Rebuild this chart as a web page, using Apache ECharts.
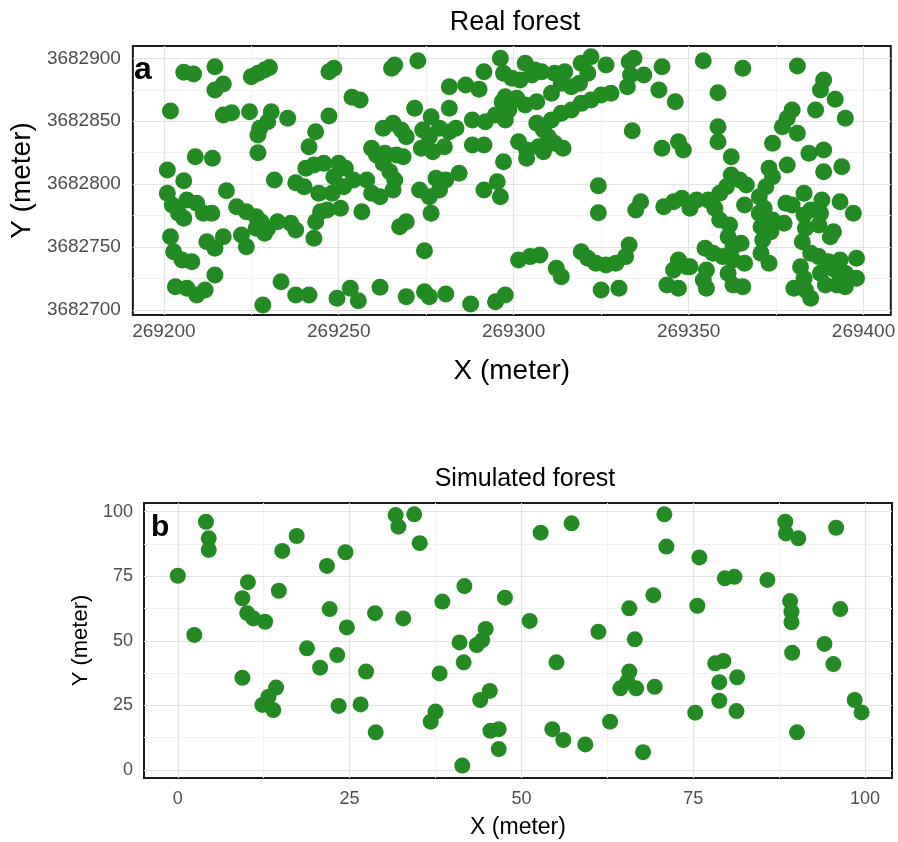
<!DOCTYPE html>
<html><head><meta charset="utf-8">
<script src="https://cdn.jsdelivr.net/npm/echarts@6/dist/echarts.min.js"></script>
<style>html,body{margin:0;padding:0;background:#fff}#c{width:898px;height:842px}</style>
</head><body><div id="c"></div>
<script>
// Real forest tree positions [X, Y] (meter)
const realForest = [
[269205.7,3682888.9],[269208.5,3682887.5],[269214.6,3682893.3],[269217.0,3682879.6],[269214.6,3682874.8],
[269225.0,3682885.4],[269226.9,3682888.1],[269228.8,3682890.7],[269230.2,3682892.8],[269201.9,3682858.1],
[269217.0,3682854.9],[269219.4,3682856.8],[269224.5,3682857.6],[269230.7,3682857.6],[269229.7,3682849.6],
[269235.4,3682852.3],[269227.4,3682844.4],[269226.9,3682839.1],[269243.4,3682841.7],[269241.5,3682829.8],
[269226.9,3682825.0],[269209.0,3682821.8],[269213.9,3682820.5],[269201.0,3682811.2],[269205.7,3682802.7],
[269217.9,3682794.8],[269231.6,3682803.3],[269237.7,3682801.2],[269240.1,3682798.0],[269240.6,3682812.6],
[269242.9,3682815.2],[269201.0,3682792.7],[269202.4,3682783.4],[269204.2,3682776.8],[269205.7,3682772.9],
[269206.6,3682787.4],[269209.4,3682784.8],[269211.3,3682776.8],[269213.7,3682776.8],[269220.8,3682782.1],
[269223.6,3682778.1],[269226.4,3682774.1],[269227.8,3682770.2],[269229.7,3682764.9],[269232.5,3682770.2],
[269236.3,3682768.9],[269237.7,3682763.6],[269244.8,3682778.1],[269243.4,3682770.2],[269242.9,3682757.0],
[269201.9,3682758.2],[269202.8,3682746.3],[269205.2,3682739.7],[269208.0,3682738.4],[269212.3,3682754.3],
[269214.6,3682749.0],[269217.0,3682758.2],[269222.2,3682759.6],[269223.6,3682750.3],[269226.4,3682764.9],
[269228.8,3682760.9],[269214.6,3682727.8],[269203.3,3682718.5],[269206.6,3682717.2],[269209.4,3682711.9],
[269211.8,3682715.9],[269233.5,3682722.5],[269237.7,3682711.9],[269241.5,3682711.9],[269228.3,3682704.0],
[269248.6,3682892.1],[269247.2,3682889.4],[269266.0,3682894.7],[269265.1,3682892.1],[269272.6,3682898.1],
[269253.8,3682869.0],[269256.1,3682866.9],[269247.2,3682854.2],[269271.7,3682860.3],[269281.6,3682877.4],
[269286.3,3682878.8],[269290.1,3682875.4],[269291.5,3682889.4],[269296.2,3682900.0],[269297.1,3682888.1],
[269281.6,3682860.3],[269276.4,3682853.6],[269262.7,3682844.4],[269265.5,3682848.4],[269267.9,3682843.0],
[269269.3,3682837.7],[269259.4,3682828.5],[269260.8,3682823.2],[269263.2,3682824.5],[269266.5,3682823.2],
[269268.4,3682821.8],[269274.0,3682843.0],[269275.9,3682837.7],[269278.8,3682844.4],[269281.6,3682841.7],
[269283.5,3682844.4],[269273.6,3682828.5],[269276.9,3682825.8],[269280.2,3682829.8],[269288.2,3682851.0],
[269291.9,3682849.6],[269294.8,3682854.9],[269296.7,3682865.5],[269298.6,3682858.9],[269288.2,3682831.1],
[269291.5,3682831.1],[269297.1,3682817.8],[269245.7,3682816.6],[269250.0,3682816.6],[269251.9,3682812.6],
[269248.6,3682805.9],[269244.3,3682792.7],[269248.1,3682792.7],[269251.4,3682798.0],[269254.2,3682803.3],
[269258.0,3682803.3],[269259.4,3682792.7],[269261.8,3682790.0],[269246.7,3682779.5],[269250.5,3682780.8],
[269256.6,3682778.1],[269262.7,3682816.6],[269264.6,3682809.9],[269266.0,3682803.3],[269265.5,3682795.4],
[269273.1,3682795.4],[269275.9,3682790.0],[269278.8,3682795.4],[269280.6,3682803.3],[269284.4,3682808.6],
[269277.8,3682804.6],[269276.4,3682776.8],[269291.5,3682795.4],[269295.3,3682801.9],[269296.2,3682790.0],
[269267.4,3682766.2],[269269.3,3682770.2],[269274.5,3682747.1],[269249.5,3682709.3],[269253.3,3682717.2],
[269255.6,3682707.4],[269261.8,3682718.0],[269269.3,3682710.6],[269274.5,3682714.5],[269275.9,3682710.6],
[269280.6,3682712.7],[269287.7,3682704.8],[269294.8,3682706.6],[269297.6,3682711.9],
[269303.3,3682896.0],[269306.1,3682890.7],[269308.0,3682889.4],[269299.5,3682884.1],[269301.8,3682882.8],
[269305.2,3682886.7],[269311.7,3682888.1],[269314.6,3682889.4],[269313.6,3682880.1],[269310.8,3682872.2],
[269316.5,3682877.4],[269319.3,3682896.0],[269322.1,3682901.3],[269321.2,3682888.1],[269318.8,3682880.1],
[269326.4,3682894.7],[269333.0,3682897.3],[269334.4,3682900.0],[269333.4,3682886.7],[269332.5,3682877.4],
[269337.2,3682886.7],[269342.4,3682893.3],[269341.5,3682874.8],[269346.2,3682865.5],[269297.6,3682869.5],
[269300.9,3682868.2],[269303.3,3682862.9],[269306.6,3682865.5],[269319.3,3682864.2],[269322.1,3682866.9],
[269325.0,3682870.8],[269327.8,3682872.2],[269316.5,3682858.9],[269313.6,3682856.3],[269310.8,3682851.0],
[269297.6,3682851.0],[269306.6,3682848.4],[269308.5,3682843.0],[269309.9,3682837.7],[269310.8,3682833.7],
[269301.4,3682833.7],[269303.7,3682827.1],[269307.1,3682829.8],[269308.5,3682825.8],[269311.7,3682832.5],
[269314.1,3682828.5],[269303.7,3682820.5],[269333.9,3682842.5],[269342.4,3682828.5],[269347.1,3682833.7],
[269348.5,3682827.1],[269324.2,3682798.8],[269324.2,3682777.3],[269336.3,3682786.1],[269334.9,3682779.5],
[269342.9,3682782.1],[269345.7,3682786.1],[269348.1,3682788.8],[269350.4,3682780.8],[269352.3,3682787.4],
[269301.4,3682739.7],[269304.7,3682742.4],[269307.5,3682743.7],[269312.2,3682733.1],[269313.6,3682726.5],
[269319.3,3682746.3],[269321.2,3682741.1],[269323.5,3682737.1],[269326.4,3682735.8],[269329.2,3682737.1],
[269332.0,3682742.4],[269333.0,3682751.6],[269325.0,3682715.9],[269330.1,3682717.2],[269347.1,3682739.7],
[269349.5,3682734.4],[269345.7,3682731.8],[269343.8,3682719.9],[269347.1,3682717.2],
[269354.2,3682898.1],[269365.5,3682892.1],[269381.1,3682893.9],[269358.4,3682872.7],[269388.6,3682882.8],
[269387.7,3682874.8],[269391.9,3682867.4],[269386.3,3682858.9],[269379.6,3682858.9],[269378.2,3682852.3],
[269376.8,3682845.7],[269381.1,3682840.4],[269394.8,3682852.3],[269358.4,3682845.7],[269358.4,3682833.7],
[269374.0,3682832.5],[269384.4,3682824.5],[269388.6,3682827.1],[269362.2,3682821.8],[269378.2,3682815.2],
[269393.8,3682813.9],[269388.6,3682809.9],[269373.0,3682812.6],[269374.0,3682805.9],[269372.1,3682798.0],
[269362.2,3682807.3],[269364.6,3682803.3],[269366.5,3682799.3],[269360.8,3682798.0],[269358.9,3682792.7],
[269355.6,3682787.4],[269357.5,3682780.8],[269358.9,3682771.5],[269366.0,3682783.4],[269370.2,3682790.0],
[269371.6,3682780.8],[269377.8,3682784.8],[269379.6,3682783.4],[269383.0,3682792.7],[269388.1,3682787.4],
[269387.7,3682776.8],[269384.9,3682779.5],[269393.3,3682786.1],[269397.1,3682776.8],[269361.7,3682767.5],
[269361.3,3682758.2],[269362.7,3682750.3],[269365.0,3682753.0],[269370.2,3682776.8],[269370.7,3682766.2],
[269374.0,3682771.5],[269377.3,3682768.9],[269373.5,3682762.2],[269371.2,3682755.6],[269383.0,3682775.5],
[269383.4,3682764.9],[269382.5,3682754.3],[269387.2,3682767.5],[269391.4,3682762.2],[269390.5,3682758.2],
[269354.7,3682749.0],[269357.0,3682745.1],[269359.8,3682742.4],[269350.4,3682734.4],[269355.1,3682731.8],
[269354.2,3682723.8],[269355.1,3682717.2],[269362.7,3682739.7],[269366.0,3682737.1],[269361.3,3682729.2],
[269362.7,3682719.9],[269365.5,3682718.5],[269370.7,3682745.1],[269373.0,3682737.1],[269384.9,3682745.1],
[269387.2,3682742.4],[269390.0,3682738.4],[269393.3,3682739.7],[269398.0,3682741.1],[269382.0,3682734.4],
[269383.0,3682725.2],[269387.7,3682729.2],[269391.9,3682731.8],[269394.8,3682729.2],[269398.0,3682725.2],
[269380.1,3682717.2],[269383.4,3682715.9],[269384.9,3682709.3],[269389.1,3682719.9],[269392.4,3682719.9],
[269394.8,3682718.5]
];
// Simulated forest tree positions [X, Y] (meter)
const simForest = [
[4.1,96.1],[4.5,89.7],[4.5,85.2],[0.0,75.2],[17.3,90.6],[15.2,84.8],[24.4,84.3],[21.7,79.0],[10.2,72.7],[14.7,69.4],
[9.4,66.5],[10.1,60.7],[11.0,58.7],[12.7,57.4],[22.1,62.3],[28.7,60.7],[2.4,52.3],[24.6,55.2],[18.8,47.1],[23.2,44.5],
[20.7,39.6],[27.4,38.1],[9.4,35.7],[14.3,31.9],[13.2,28.4],[12.3,25.2],[13.9,23.2],[23.4,24.8],[26.6,25.4],[28.8,14.6],
[31.7,98.7],[32.1,94.2],[34.4,99.0],[35.2,87.8],[52.8,91.9],[57.3,95.5],[41.7,71.2],[38.5,65.2],[47.6,66.7],[32.8,58.7],
[51.2,57.7],[61.2,53.5],[44.8,54.6],[41.0,49.4],[43.5,48.4],[44.3,50.3],[41.6,41.7],[55.1,41.7],[38.1,37.4],[45.4,30.6],
[44.0,27.1],[37.5,22.6],[36.8,18.7],[46.7,15.8],[45.5,15.2],[46.7,8.1],[41.4,1.7],[54.5,15.8],[56.1,11.6],[59.3,9.9],
[62.9,18.7],[70.8,99.0],[71.1,86.5],[75.9,82.3],[88.4,96.1],[88.5,91.6],[90.3,89.7],[95.8,93.8],[79.6,74.2],[81.0,74.8],
[85.8,73.6],[69.2,67.7],[65.7,62.6],[75.6,63.6],[89.1,65.4],[89.3,61.3],[89.3,57.2],[96.4,62.3],[66.5,50.6],[89.4,45.4],
[94.1,48.8],[95.4,41.0],[78.2,41.3],[79.4,42.2],[81.4,35.9],[78.8,34.0],[78.8,26.8],[81.3,22.8],[75.3,22.2],[65.7,38.1],
[65.4,34.2],[66.7,31.6],[69.4,32.2],[64.4,31.6],[98.5,27.1],[99.5,22.3],[90.1,14.6],[67.7,6.9]
];
const realXTicks = [269200, 269250, 269300, 269350, 269400];
const realXMinor = [269225, 269275, 269325, 269375];
const realYTicks = [3682700, 3682750, 3682800, 3682850, 3682900];
const realYMinor = [3682725, 3682775, 3682825, 3682875];
const simTicks = [0, 25, 50, 75, 100];
const simMinor = [12.5, 37.5, 62.5, 87.5];

const FONT = "'Liberation Sans', Arial, sans-serif";
const GREEN = '#228B22';
const MAJOR = '#E3E3E3', MINOR = '#F1F1F1';

function mainAxis(grid, min, max, ticks, o) {
  return {
    type: 'value', gridIndex: grid, min: min, max: max,
    position: o.position,
    name: o.name, nameLocation: 'middle', nameGap: o.nameGap,
    nameTextStyle: { fontFamily: FONT, fontSize: o.nameSize, color: '#000' },
    axisLine: { show: false },
    axisTick: { show: false, customValues: ticks },
    axisLabel: { customValues: ticks, fontFamily: FONT, fontSize: o.labelSize, color: '#4D4D4D',
                 margin: o.margin, formatter: v => String(v), showMinLabel: true, showMaxLabel: true },
    splitLine: { show: true, lineStyle: { color: MAJOR, width: 1.2 } },
    z: 1
  };
}
function minorAxis(grid, min, max, ticks, position) {
  return {
    type: 'value', gridIndex: grid, min: min, max: max, position: position,
    axisLine: { show: false }, axisTick: { show: false, customValues: ticks },
    axisLabel: { show: false }, splitLine: { show: true, lineStyle: { color: MINOR, width: 1 } }, z: 0
  };
}

const chart = echarts.init(document.getElementById('c'));
chart.setOption({
  animation: false,
  backgroundColor: '#fff',
  title: [
    { text: 'Real forest', left: 510, top: 4, textAlign: 'center',
      textStyle: { fontFamily: FONT, fontSize: 27, fontWeight: 'normal', color: '#000' } },
    { text: 'Simulated forest', left: 520, top: 462, textAlign: 'center',
      textStyle: { fontFamily: FONT, fontSize: 25, fontWeight: 'normal', color: '#000' } },
    { text: 'a', left: 129, top: 49, z: 10,
      textStyle: { fontFamily: FONT, fontSize: 32, fontWeight: 'bold', color: '#000' } },
    { text: 'b', left: 146, top: 508, z: 10,
      textStyle: { fontFamily: FONT, fontSize: 30, fontWeight: 'bold', color: '#000' } }
  ],
  grid: [
    { left: 127, top: 46, width: 766, height: 269, show: true, backgroundColor: '#fff',
      borderColor: '#1a1a1a', borderWidth: 2, containLabel: false },
    { left: 144, top: 503, width: 748, height: 275, show: true, backgroundColor: '#fff',
      borderColor: '#1a1a1a', borderWidth: 2, containLabel: false }
  ],
  xAxis: [
    mainAxis(0, 269191.15, 269407.8, realXTicks, { position: 'bottom', name: 'X (meter)', nameGap: 42, nameSize: 28, labelSize: 19, margin: 7 }),
    mainAxis(1, -4.92, 103.93, simTicks, { position: 'bottom', name: 'X (meter)', nameGap: 38, nameSize: 23, labelSize: 18, margin: 12 }),
    minorAxis(0, 269191.15, 269407.8, realXMinor, 'top'),
    minorAxis(1, -4.92, 103.93, simMinor, 'top')
  ],
  yAxis: [
    mainAxis(0, 3682696.0, 3682909.8, realYTicks, { position: 'left', name: 'Y (meter)', nameGap: 90, nameSize: 28, labelSize: 19, margin: 12 }),
    mainAxis(1, -3.1, 103.37, simTicks, { position: 'left', name: 'Y (meter)', nameGap: 42, nameSize: 22, labelSize: 18, margin: 11 }),
    minorAxis(0, 3682696.0, 3682909.8, realYMinor, 'right'),
    minorAxis(1, -3.1, 103.37, simMinor, 'right')
  ],
  series: [
    { type: 'scatter', xAxisIndex: 0, yAxisIndex: 0, data: realForest, symbolSize: 17,
      itemStyle: { color: GREEN, opacity: 1 }, z: 3 },
    { type: 'scatter', xAxisIndex: 1, yAxisIndex: 1, data: simForest, symbolSize: 16,
      itemStyle: { color: GREEN, opacity: 1 }, z: 3 }
  ]
});
</script></body></html>
